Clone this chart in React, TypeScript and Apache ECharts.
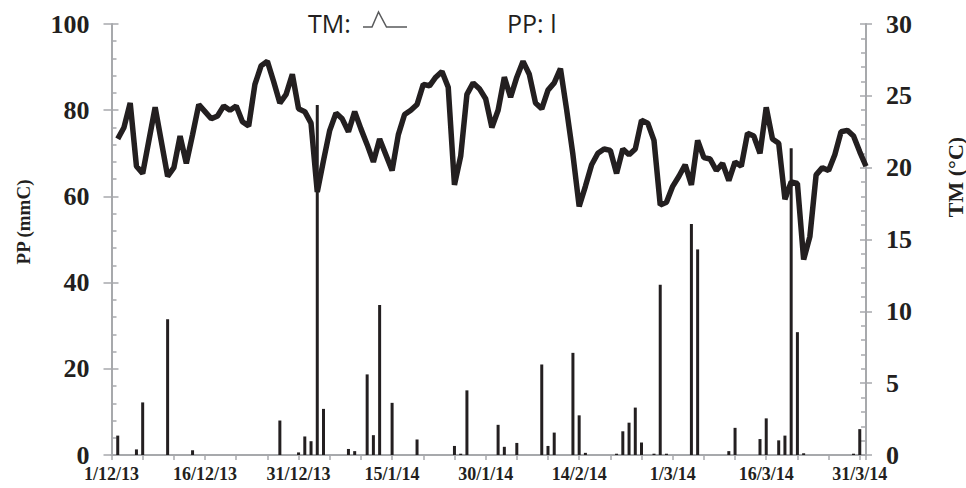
import React, { useEffect, useRef } from 'react';
import * as echarts from 'echarts';

// Day 0 of the x axis is 1 December 2013; one unit = one day.
const AXIS_DAYS = 121;
const LABEL_STEP = 15;
const TICK_LABELS = ['1/12/13', '16/12/13', '31/12/13', '15/1/14', '30/1/14', '14/2/14', '1/3/14', '16/3/14', '31/3/14'];

// Daily mean temperature (°C), starting on day 1 (2/12/13)
const TM_FIRST_DAY = 1;
const tmValues = [
  22.0, 22.8, 24.5, 20.1, 19.6, 21.9, 24.2, 21.8, 19.4, 20.0,
  22.2, 20.3, 22.3, 24.4, 23.9, 23.4, 23.6, 24.3, 24.0, 24.3,
  23.2, 22.9, 25.8, 27.1, 27.4, 26.0, 24.5, 25.1, 26.5, 24.1,
  23.9, 23.1, 18.3, 20.5, 22.6, 23.8, 23.4, 22.5, 23.9, 22.7,
  21.6, 20.4, 22.0, 20.9, 19.8, 22.3, 23.7, 24.0, 24.4, 25.8,
  25.7, 26.3, 26.7, 25.6, 18.8, 20.8, 25.1, 25.9, 25.5, 24.8,
  22.8, 24.0, 26.3, 24.9, 26.3, 27.4, 26.5, 24.5, 24.1, 25.4,
  25.9, 26.9, 24.0, 20.9, 17.3, 18.7, 20.2, 21.0, 21.3, 21.2,
  19.6, 21.3, 20.9, 21.3, 23.3, 23.1, 21.9, 17.4, 17.6, 18.7,
  19.4, 20.2, 18.8, 21.9, 20.7, 20.6, 19.8, 20.3, 19.1, 20.4,
  20.1, 22.4, 22.2, 21.0, 24.2, 22.0, 21.7, 17.8, 19.0, 18.9,
  13.6, 15.2, 19.5, 20.0, 19.8, 20.9, 22.5, 22.6, 22.2, 21.1,
  20.1,
];

// Daily precipitation (mm): rainy days and amounts
const ppDays = [
  1, 4, 5, 9, 13, 27, 30, 31, 32, 33, 34, 38, 39, 41, 42, 43, 45, 49, 55, 56,
  57, 62, 63, 65, 69, 70, 71, 74, 75, 76, 81, 82, 83, 84, 85, 87, 88, 89, 93, 94,
  99, 100, 104, 105, 107, 108, 109, 110, 111, 119, 120,
];
const ppValues = [
  4.5, 1.3, 12.2, 31.5, 1.1, 8.0, 0.6, 4.3, 3.2, 81.2, 10.7, 1.4, 0.9, 18.7, 4.6, 34.8, 12.1, 3.6, 2.1, 0.3,
  15.0, 7.0, 1.9, 2.8, 21.0, 2.1, 5.2, 23.7, 9.2, 0.5, 0.3, 5.5, 7.5, 11.0, 2.9, 0.3, 39.5, 0.3, 53.6, 47.7,
  0.9, 6.3, 3.7, 8.5, 3.4, 4.5, 71.2, 28.5, 0.4, 0.3, 6.0,
];

const INK = '#231f20';
const AXIS_GREY = '#a7a9ac';
const SERIF = '"Liberation Serif", "Times New Roman", serif';

export default function App() {
  const ref = useRef<HTMLDivElement>(null);

  useEffect(() => {
    if (!ref.current) return;
    const chart = echarts.init(ref.current, undefined, { renderer: 'svg' });

    const tmData = tmValues.map((v, i) => [i + TM_FIRST_DAY, v]);
    const ppData = ppDays.map((d, i) => [d, ppValues[i]]);

    const yLabel = {
      fontFamily: SERIF,
      fontWeight: 'bold' as const,
      fontSize: 26,
      color: INK,
    };
    const axisLine = { show: true, lineStyle: { color: AXIS_GREY, width: 2 } };
    const tickStyle = { color: AXIS_GREY, width: 1.5 };

    chart.setOption({
      animation: false,
      backgroundColor: '#ffffff',
      grid: { left: 111.5, right: 100, top: 24, bottom: 33, containLabel: false },
      xAxis: {
        type: 'value',
        min: 0,
        max: AXIS_DAYS,
        interval: 5,
        axisLine,
        axisTick: { show: true, length: 5, lineStyle: tickStyle },
        splitLine: { show: false },
        axisLabel: {
          fontFamily: SERIF,
          fontWeight: 'bold',
          fontSize: 18,
          color: INK,
          margin: 10,
          formatter: (v: number) => {
            const r = Math.round(v);
            return r % LABEL_STEP === 0 && r <= 120 ? TICK_LABELS[r / LABEL_STEP] ?? '' : '';
          },
        },
      },
      yAxis: [
        {
          type: 'value',
          position: 'left',
          min: 0,
          max: 100,
          interval: 20,
          axisLine,
          axisTick: { show: true, inside: true, length: 7, lineStyle: tickStyle },
          minorTick: { show: true, splitNumber: 5, length: 5, lineStyle: tickStyle },
          splitLine: { show: false },
          minorSplitLine: { show: false },
          axisLabel: { ...yLabel, margin: 22 },
        },
        {
          type: 'value',
          position: 'right',
          min: 0,
          max: 30,
          interval: 5,
          axisLine,
          axisTick: { show: true, inside: true, length: 6, lineStyle: tickStyle },
          minorTick: { show: true, splitNumber: 5, length: 5, lineStyle: tickStyle },
          splitLine: { show: false },
          minorSplitLine: { show: false },
          axisLabel: { ...yLabel, margin: 20 },
        },
        // outer halves of the major ticks, so they cross the axis lines
        {
          type: 'value',
          position: 'left',
          min: 0,
          max: 100,
          interval: 20,
          axisLine: { show: false },
          axisTick: { show: true, length: 8, lineStyle: tickStyle },
          axisLabel: { show: false },
          splitLine: { show: false },
        },
        {
          type: 'value',
          position: 'right',
          min: 0,
          max: 30,
          interval: 5,
          axisLine: { show: false },
          axisTick: { show: true, length: 6, lineStyle: tickStyle },
          axisLabel: { show: false },
          splitLine: { show: false },
        },
      ],
      series: [
        {
          name: 'PP',
          type: 'bar',
          xAxisIndex: 0,
          yAxisIndex: 0,
          barWidth: 3,
          itemStyle: { color: INK },
          data: ppData,
          silent: true,
        },
        {
          name: 'TM',
          type: 'line',
          xAxisIndex: 0,
          yAxisIndex: 1,
          symbol: 'none',
          lineStyle: { color: INK, width: 5.5 },
          data: tmData,
          silent: true,
          z: 3,
        },
      ],
      graphic: [
        {
          type: 'text',
          x: 308,
          y: 23,
          style: { text: 'TM:', font: '25px "Open Sans", sans-serif', fill: INK, textVerticalAlign: 'middle' },
        },
        {
          type: 'polyline',
          shape: { points: [[363, 27], [372, 27], [378.5, 12], [386.5, 27], [407, 27]] },
          style: { stroke: '#58595b', lineWidth: 1.5, fill: 'none' },
        },
        {
          type: 'text',
          x: 507,
          y: 23,
          style: { text: 'PP: l', font: '25px "Open Sans", sans-serif', fill: INK, textVerticalAlign: 'middle' },
        },
        {
          type: 'text',
          x: 23,
          y: 222,
          rotation: Math.PI / 2,
          style: {
            text: 'PP (mmC)',
            font: `bold 19px ${SERIF}`,
            fill: INK,
            textAlign: 'center',
            textVerticalAlign: 'middle',
          },
        },
        {
          type: 'text',
          x: 955,
          y: 177,
          rotation: Math.PI / 2,
          style: {
            text: 'TM (°C)',
            font: `bold 22px ${SERIF}`,
            fill: INK,
            textAlign: 'center',
            textVerticalAlign: 'middle',
          },
        },
      ],
    });

    return () => chart.dispose();
  }, []);

  return (
    <div
      ref={ref}
      style={{ position: 'absolute', left: 0, top: 0, width: 966, height: 488, background: '#ffffff' }}
    />
  );
}
